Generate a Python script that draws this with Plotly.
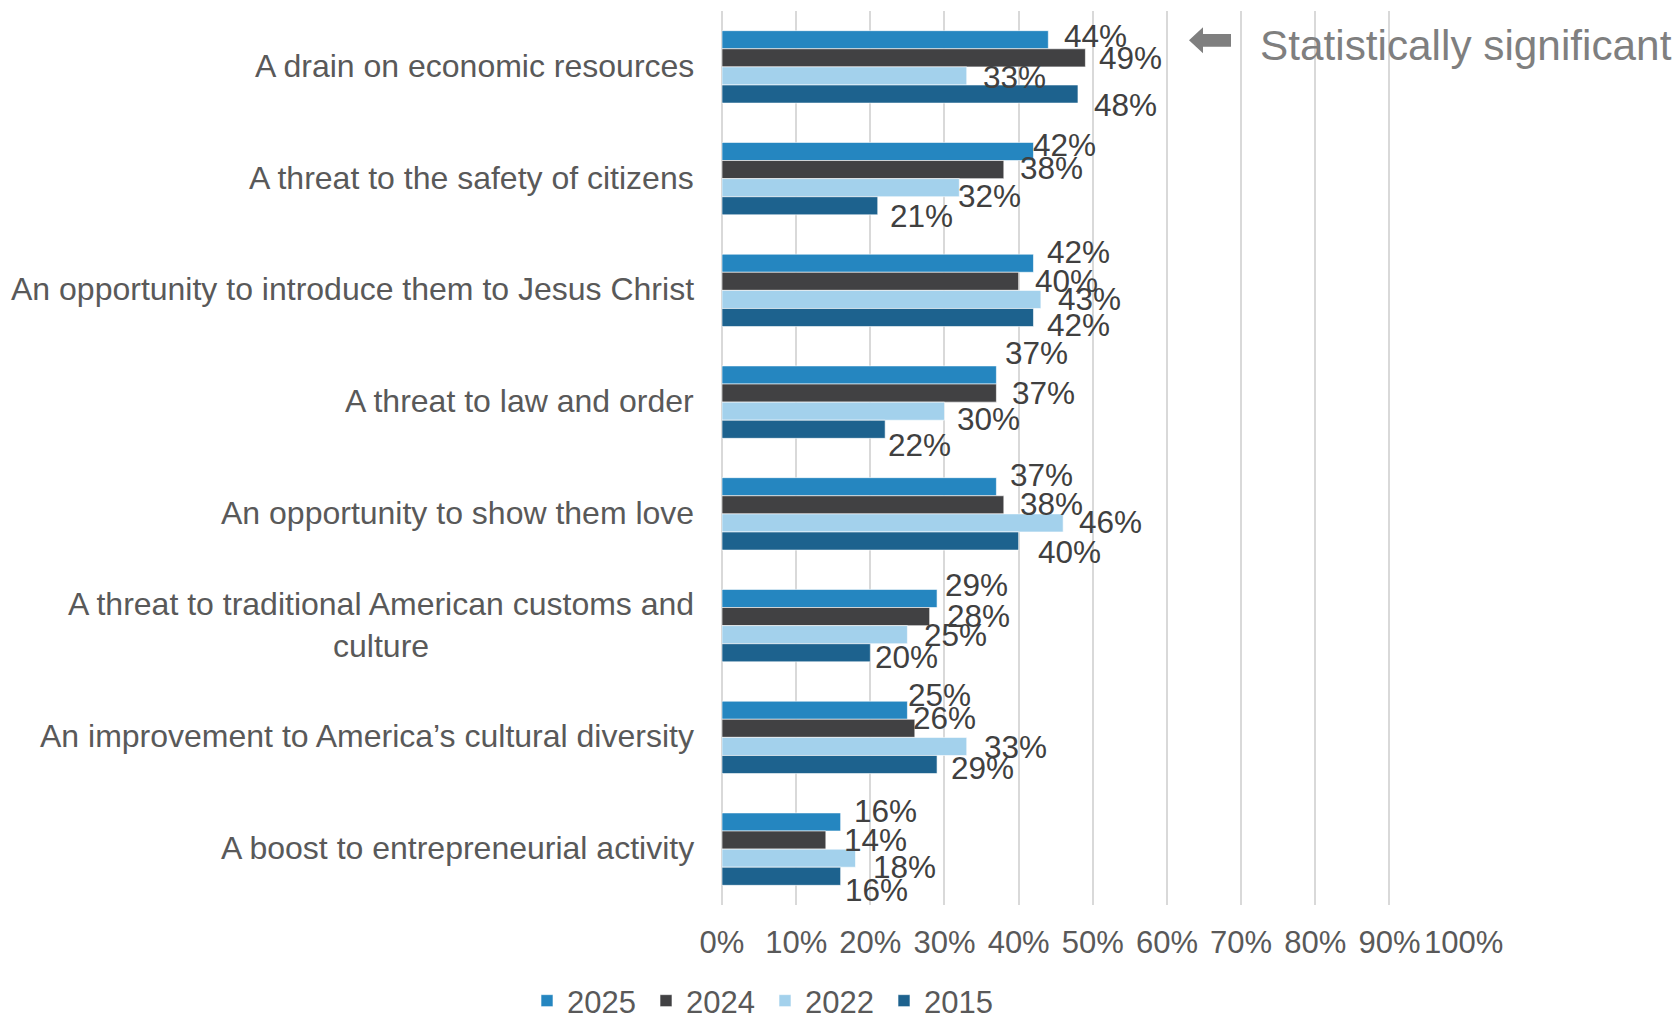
import plotly.graph_objects as go

# ---------------- data ----------------
categories = [
    "A drain on economic resources",
    "A threat to the safety of citizens",
    "An opportunity to introduce them to Jesus Christ",
    "A threat to law and order",
    "An opportunity to show them love",
    "A threat to traditional American customs and<br>culture",
    "An improvement to America’s cultural diversity",
    "A boost to entrepreneurial activity",
]
years = ["2025", "2024", "2022", "2015"]
v2025 = [44, 42, 42, 37, 37, 29, 25, 16]
v2024 = [49, 38, 40, 37, 38, 28, 26, 14]
v2022 = [33, 32, 43, 30, 46, 25, 33, 18]
v2015 = [48, 21, 42, 22, 40, 20, 29, 16]
x_tick_values = [0, 10, 20, 30, 40, 50, 60, 70, 80, 90, 100]
x_tick_labels = [f"{v}%" for v in x_tick_values]
note_text = "Statistically significant"

# ---------------- styling ----------------
colors = ["#2586C0", "#414143", "#A3D1EC", "#1D628E"]
series = [v2025, v2024, v2022, v2015]

# hand-placed data label nudges (dx, dy in px; dy positive = down), as in the source chart
label_nudge = [
    [(16, -2), (0, -5), (14, -10), (9, -20), (14, -10), (8, -12), (1, -14), (13, -9)],
    [(14, 2), (16, 0), (16, 1), (16, 1), (16, 1), (17, 1), (-2, -9), (18, 1)],
    [(16, 3), (-1, 10), (17, 1), (13, 9), (16, 1), (17, 2), (17, 2), (18, 10)],
    [(16, 12), (12, 12), (14, 9), (3, 17), (19, 12), (5, 6), (14, 5), (4, 15)],
]

W, H = 1680, 1018
OFF = 8  # page offset of the figure inside the browser window
# plot area in window pixels: x 722..1464, y 11..905
PL, PR, PT, PB = 722, 1464, 11, 905
ML, MT = PL - OFF, PT - OFF
MR = W - (PR - OFF)
MB = H - (PB - OFF)
PW, PH = PR - PL, PB - PT
BARGAP = 0.352
FONT = "Liberation Sans, Arial, sans-serif"


def px_x(px):
    return (px - PL) / PW


def px_y(py):
    return (PB - py) / PH


fig = go.Figure()
for name, vals, col in zip(years, series, colors):
    fig.add_trace(go.Bar(
        name=name, y=categories, x=vals, orientation="h",
        marker=dict(color=col, line=dict(color="rgba(255,255,255,0.6)", width=1)),
        hoverinfo="x+y+name",
    ))

annotations = []
group_w = 1 - BARGAP
nser = len(series)
for si, vals in enumerate(series):
    off = (-0.5 + (si + 0.5) / nser) * group_w
    for ci, v in enumerate(vals):
        dx, dy = label_nudge[si][ci]
        annotations.append(dict(
            x=v, y=ci + off, xref="x", yref="y", text=f"{v}%",
            showarrow=False, xanchor="left", yanchor="middle",
            xshift=dx - 2, yshift=-dy + 1.5,
            font=dict(family=FONT, size=31.5, color="#404040"),
        ))

for ci, cat in enumerate(categories):
    annotations.append(dict(
        x=0, y=ci, xref="paper", yref="y", text=cat, showarrow=False,
        xanchor="right", yanchor="middle", align="center", xshift=-26, yshift=1,
        font=dict(family=FONT, size=32, color="#595959"),
    ))

annotations.append(dict(
    x=px_x(1258), y=px_y(45), xref="paper", yref="paper", text=note_text,
    showarrow=False, xanchor="left", yanchor="middle",
    font=dict(family=FONT, size=42.3, color="#7F7F7F"),
))

# left-pointing block arrow next to the note
pts = [(1189, 40.3), (1203, 27.3), (1203, 34), (1231, 34), (1231, 46.7),
       (1203, 46.7), (1203, 53.3)]
path = "M " + " L ".join(f"{px_x(a):.5f},{px_y(b):.5f}" for a, b in pts) + " Z"
shapes = [dict(type="path", xref="paper", yref="paper", path=path,
               fillcolor="#7F7F7F", line=dict(width=0))]

fig.update_layout(
    width=W, height=H,
    margin=dict(l=ML, r=MR, t=MT, b=MB, pad=0, autoexpand=False),
    paper_bgcolor="white", plot_bgcolor="white",
    barmode="group", bargap=BARGAP, bargroupgap=0,
    font=dict(family=FONT, color="#595959"),
    annotations=annotations, shapes=shapes,
    legend=dict(
        orientation="h", x=px_x(527), y=px_y(1001), xanchor="left", yanchor="middle",
        font=dict(family=FONT, size=31, color="#595959"),
        traceorder="normal", entrywidth=74, entrywidthmode="pixels",
        bgcolor="rgba(0,0,0,0)",
    ),
    xaxis=dict(
        range=[0, 100.05], tickvals=x_tick_values, ticktext=x_tick_labels,
        showgrid=True, gridcolor="#D9D9D9", gridwidth=1.5,
        zeroline=True, zerolinecolor="#D9D9D9", zerolinewidth=1.5,
        showline=False, ticks="", ticklabelstandoff=16, automargin=False,
        tickfont=dict(family=FONT, size=31, color="#595959"),
        fixedrange=True,
    ),
    yaxis=dict(
        autorange="reversed", showticklabels=False, showgrid=False,
        zeroline=False, showline=False, ticks="", fixedrange=True,
        automargin=False,
    ),
    showlegend=True,
)

fig.write_html("out.html")
